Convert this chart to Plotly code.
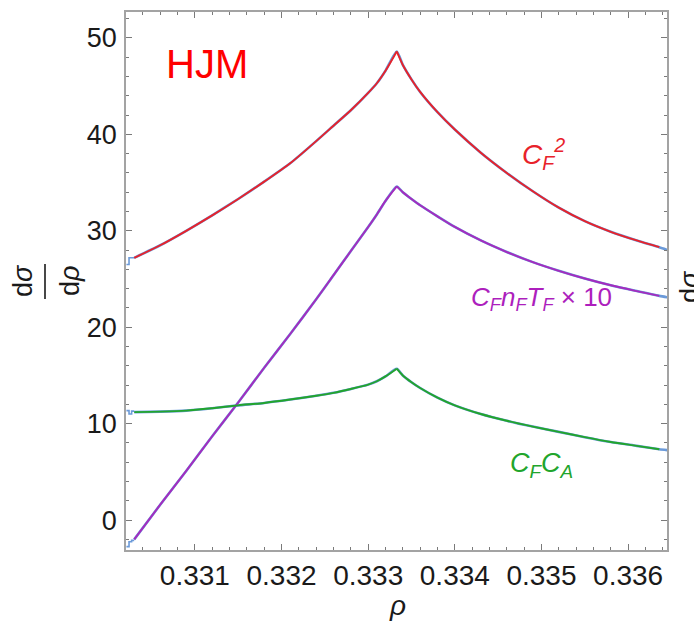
import plotly.graph_objects as go

# ---- data -------------------------------------------------------------
# rho grid, left branch (up to the cusp at rho = 1/3) and right branch
rho_left = [0.3303, 0.3306, 0.3309, 0.3312, 0.3315, 0.3318, 0.3321, 0.3324,
            0.3326, 0.3328, 0.3330, 0.3331, 0.3332, 0.33333]
rho_right = [0.33333, 0.3334, 0.3335, 0.3336, 0.3338, 0.3340, 0.3343, 0.3346,
             0.3349, 0.3352, 0.3355, 0.3358, 0.3361, 0.33636]

cf2_left = [27.2, 28.5, 30.0, 31.6, 33.3, 35.1, 37.0, 39.3, 40.9, 42.5, 44.3, 45.3, 46.6, 48.6]
cf2_right = [48.6, 47.2, 45.7, 44.4, 42.3, 40.5, 38.1, 36.0, 34.1, 32.4, 31.0, 29.9, 29.0, 28.3]

nf_left = [-2.0, 1.6, 5.1, 8.7, 12.2, 15.8, 19.3, 22.9, 25.4, 27.9, 30.4, 31.7, 33.1, 34.6]
nf_right = [34.6, 34.0, 33.3, 32.65, 31.5, 30.4, 29.0, 27.8, 26.75, 25.85, 25.05, 24.35, 23.75, 23.25]

ca_left = [11.2, 11.25, 11.35, 11.6, 11.9, 12.15, 12.5, 12.9, 13.2, 13.6, 14.05, 14.4, 14.9, 15.7]
ca_right = [15.7, 15.0, 14.3, 13.7, 12.7, 11.9, 11.0, 10.3, 9.7, 9.15, 8.6, 8.1, 7.7, 7.35]

# histogram (Monte Carlo) bins at the low-rho edge and last bin value
hist_edges = [0.33021, 0.33024, 0.33027, 0.3303]
hist_cf2 = [26.5, 27.2, 27.2, 27.2]
hist_nf = [-2.75, -2.25, -2.1, -2.1]
hist_ca = [11.35, 11.0, 11.3, 11.3]
rho_tail = 0.33646
tail_cf2 = 28.0
tail_nf = 23.1
tail_ca = 7.25

# ---- styles -----------------------------------------------------------
RED = "#e8222a"
PURPLE = "#a52bbf"
GREEN = "#22a52c"
BLUE = "#6b9ad9"
FONT = "Liberation Sans, Arial, sans-serif"
INK = "#1a1a1a"
TICK = "#7a7a7a"

fig = go.Figure()

series = [
    (cf2_left, cf2_right, hist_cf2, tail_cf2, RED),
    (nf_left, nf_right, hist_nf, tail_nf, PURPLE),
    (ca_left, ca_right, hist_ca, tail_ca, GREEN),
]

# blue histogram underlay
for left, right, hist, tail, _ in series:
    fig.add_trace(go.Scatter(x=hist_edges, y=hist, mode="lines",
                             line=dict(color=BLUE, width=1.6, shape="hv"),
                             hoverinfo="skip", showlegend=False))
    fig.add_trace(go.Scatter(x=rho_left + rho_right[1:] + [rho_tail],
                             y=left + right[1:] + [tail], mode="lines",
                             line=dict(color=BLUE, width=2.6, shape="spline", smoothing=0.6),
                             hoverinfo="skip", showlegend=False))

# analytic curves (two branches each, meeting at the cusp)
for left, right, _, _, color in series:
    for xs, ys in ((rho_left, left), (rho_right, right)):
        fig.add_trace(go.Scatter(x=xs, y=ys, mode="lines",
                                 line=dict(color=color, width=1.9, shape="spline",
                                           smoothing=0.8),
                                 showlegend=False))

axis_common = dict(
    showline=True, linecolor="#a3a3a3", linewidth=1.5, mirror="ticks",
    ticks="inside", ticklen=6, tickwidth=1.2, tickcolor=TICK,
    showgrid=False, zeroline=False, tickmode="linear",
)

fig.update_xaxes(
    range=[0.330205, 0.336449], tick0=0.331, dtick=0.001, tickformat=".3f",
    tickfont=dict(family=FONT, size=28, color=INK),
    minor=dict(ticks="inside", ticklen=3.5, tickwidth=1.1, tickcolor=TICK,
               dtick=0.0002, tick0=0.331, showgrid=False),
    **axis_common,
)
fig.update_yaxes(
    range=[-3.1, 52.69], tick0=0, dtick=10,
    tickfont=dict(family=FONT, size=27, color=INK),
    minor=dict(ticks="inside", ticklen=3.5, tickwidth=1.1, tickcolor=TICK,
               dtick=2, tick0=0, showgrid=False),
    ticklabelstandoff=2,
    **axis_common,
)

L, R, T, B = 126, 27, 10, 73
W, H = 694, 623
pw, ph = W - L - R, H - T - B


def px(x):
    return (x - L) / pw


def py(y):
    return (H - B - y) / ph


annotations = [
    dict(text="HJM", x=px(207), y=py(62), font=dict(family=FONT, size=40, color="#ff0000")),
    dict(text="<i>C<sub>F</sub><sup>2</sup></i>", x=px(543), y=py(153),
         font=dict(family=FONT, size=28, color=RED)),
    dict(text="<i>C<sub>F</sub>n<sub>F</sub>T<sub>F</sub></i> \u00d7 10", x=px(541), y=py(298),
         font=dict(family=FONT, size=26, color="#ad1fbd")),
    dict(text="<i>C<sub>F</sub>C<sub>A</sub></i>", x=px(541), y=py(465),
         font=dict(family=FONT, size=27, color=GREEN)),
    dict(text="<i>\u03c1</i>", x=px(397), y=py(606), font=dict(family=FONT, size=28, color=INK)),
    dict(text="d<i>\u03c3</i>", x=px(23), y=py(280), textangle=-90,
         font=dict(family=FONT, size=27, color=INK)),
    dict(text="d<i>\u03c1</i>", x=px(70), y=py(280), textangle=-90,
         font=dict(family=FONT, size=27, color=INK)),
    dict(text="d<i>\u03c3</i>", x=px(690), y=py(286), textangle=-90,
         font=dict(family=FONT, size=27, color=INK)),
]
for a in annotations:
    a.update(xref="paper", yref="paper", showarrow=False,
             xanchor="center", yanchor="middle")

fig.update_layout(
    width=W, height=H,
    margin=dict(l=L, r=R, t=T, b=B),
    paper_bgcolor="white", plot_bgcolor="white",
    annotations=annotations,
    shapes=[dict(type="line", xref="paper", yref="paper",
                 x0=px(45), x1=px(45), y0=py(263), y1=py(298),
                 line=dict(color=INK, width=1.6))],
)

fig.write_html("out.html")
